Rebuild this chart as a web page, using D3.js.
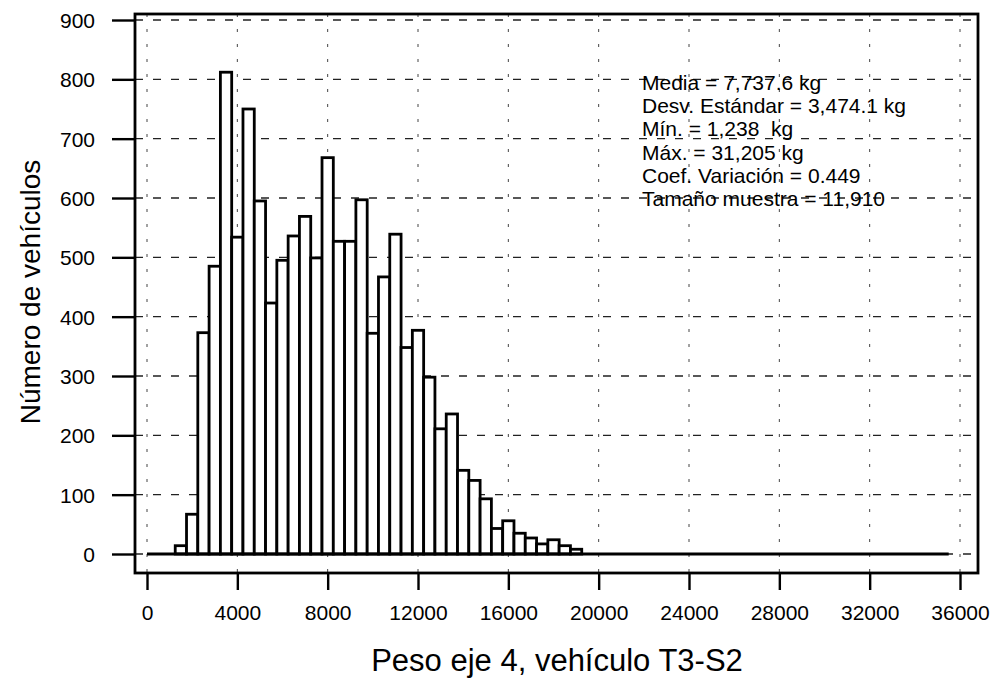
<!DOCTYPE html>
<html>
<head>
<meta charset="utf-8">
<script src="https://cdn.jsdelivr.net/npm/d3@7"></script>
<style>
  body { margin: 0; background: #fff; }
  text { font-family: "Liberation Sans", Arial, Helvetica, sans-serif; fill: #000; }
</style>
</head>
<body>
<svg id="chart" width="996" height="678"></svg>
<script>
// bin centers (kg) and vehicle counts, bins 500 kg wide
const binCenters = [1500, 2000, 2500, 3000, 3500, 4000, 4500, 5000, 5500, 6000,
  6500, 7000, 7500, 8000, 8500, 9000, 9500, 10000, 10500, 11000,
  11500, 12000, 12500, 13000, 13500, 14000, 14500, 15000, 15500, 16000,
  16500, 17000, 17500, 18000, 18500, 19000];
const counts = [14, 67, 373, 485, 812, 534, 750, 595, 423, 495,
  536, 569, 499, 668, 527, 527, 597, 372, 467, 539,
  348, 377, 298, 211, 236, 141, 124, 93, 43, 56,
  35, 27, 17, 24, 14, 8];
const binWidth = 500;
const baselineEnd = 35500;

const xTicks = [0, 4000, 8000, 12000, 16000, 20000, 24000, 28000, 32000, 36000];
const yTicks = [0, 100, 200, 300, 400, 500, 600, 700, 800, 900];

const statLines = [
  "Media = 7,737.6 kg",
  "Desv. Estándar = 3,474.1 kg",
  "Mín. = 1,238  kg",
  "Máx. = 31,205 kg",
  "Coef. Variación = 0.449",
  "Tamaño muestra = 11,910"
];

const svg = d3.select("#chart");
const frame = {left: 135, top: 14, right: 978, bottom: 573};

const x = d3.scaleLinear().domain([0, 36000]).range([147, 960]);
const y = d3.scaleLinear().domain([0, 900]).range([554, 20]);

// grid
svg.append("g").selectAll("line")
  .data(yTicks)
  .join("line")
  .attr("x1", frame.left).attr("x2", frame.right)
  .attr("y1", d => y(d)).attr("y2", d => y(d))
  .attr("stroke", "#222").attr("stroke-width", 1.3)
  .attr("stroke-dasharray", "8,10");

svg.append("g").selectAll("line")
  .data(xTicks)
  .join("line")
  .attr("x1", d => x(d)).attr("x2", d => x(d))
  .attr("y1", frame.top).attr("y2", frame.bottom)
  .attr("stroke", "#444").attr("stroke-width", 1)
  .attr("stroke-dasharray", "3,12");

// histogram bars
svg.append("g").selectAll("rect")
  .data(binCenters)
  .join("rect")
  .attr("x", d => x(d - binWidth / 2))
  .attr("width", d => x(d + binWidth / 2) - x(d - binWidth / 2))
  .attr("y", (d, i) => y(counts[i]))
  .attr("height", (d, i) => y(0) - y(counts[i]))
  .attr("fill", "#fff")
  .attr("stroke", "#000")
  .attr("stroke-width", 2.8);

// zero line
svg.append("line")
  .attr("x1", x(0)).attr("x2", x(baselineEnd))
  .attr("y1", y(0)).attr("y2", y(0))
  .attr("stroke", "#000").attr("stroke-width", 3);

// frame
svg.append("rect")
  .attr("x", frame.left).attr("y", frame.top)
  .attr("width", frame.right - frame.left)
  .attr("height", frame.bottom - frame.top)
  .attr("fill", "none").attr("stroke", "#000").attr("stroke-width", 2.8);

// axes
const yAxis = d3.axisLeft(y).tickValues(yTicks).tickSize(23).tickPadding(17);
const gy = svg.append("g").attr("transform", `translate(${frame.left},0)`).call(yAxis);
gy.select(".domain").remove();
gy.selectAll(".tick line").attr("stroke-width", 2.4);
gy.selectAll(".tick text").style("font-size", "21px").attr("dy", "0.36em");

const xAxis = d3.axisBottom(x).tickValues(xTicks).tickSize(17).tickPadding(15).tickFormat(d3.format("d"));
const gx = svg.append("g").attr("transform", `translate(0,${frame.bottom})`).call(xAxis);
gx.select(".domain").remove();
gx.selectAll(".tick line").attr("stroke-width", 2.4);
gx.selectAll(".tick text").style("font-size", "21px");

// axis titles
svg.append("text")
  .attr("transform", "rotate(-90)")
  .attr("x", -292)
  .attr("y", 40)
  .attr("text-anchor", "middle")
  .style("font-size", "28px")
  .text("Número de vehículos");

svg.append("text")
  .attr("x", 557)
  .attr("y", 671)
  .attr("text-anchor", "middle")
  .style("font-size", "31px")
  .text("Peso eje 4, vehículo T3-S2");

// summary statistics
svg.append("g").selectAll("text")
  .data(statLines)
  .join("text")
  .attr("x", 642)
  .attr("y", (d, i) => 90 + i * 23.2)
  .style("font-size", "21px")
  .style("white-space", "pre")
  .text(d => d);
</script>
</body>
</html>
